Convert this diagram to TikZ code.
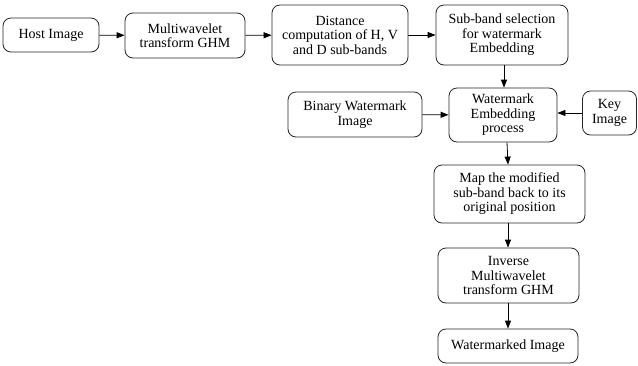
\documentclass[tikz,border=0pt]{standalone}
\usepackage{fontspec}
\setmainfont{Liberation Serif}
\usetikzlibrary{arrows.meta}
\begin{document}
\begin{tikzpicture}[x=1pt,y=-1pt,
  box/.style={draw=black!85,line width=0.8pt,rounded corners=8pt,align=center,
    inner sep=0pt,font=\fontsize{14}{14.5}\selectfont},
  arr/.style={draw=black,line width=0.8pt,-{Triangle[length=8pt,width=6pt]}}]
\useasboundingbox (0,0) rectangle (638,365);
\node[box,minimum width=96pt,minimum height=34pt] (host) at (51,35) {Host Image};
\node[box,minimum width=120pt,minimum height=45pt] (multi) at (185,35.5) {Multiwavelet\\transform GHM};
\node[box,minimum width=136pt,minimum height=60pt] (dist) at (340,35) {Distance\\computation of H, V\\and D sub-bands};
\node[box,minimum width=132pt,minimum height=60pt] (sel) at (502,35) {Sub-band selection\\for watermark\\Embedding};
\node[box,minimum width=134pt,minimum height=45pt] (bin) at (355,114.5) {Binary Watermark\\Image};
\node[box,minimum width=108pt,minimum height=54pt] (emb) at (503,115) {Watermark\\Embedding\\process};
\node[box,minimum width=54pt,minimum height=44pt] (key) at (609.5,113) {Key\\Image};
\node[box,minimum width=151pt,minimum height=58pt] (map) at (509.5,194) {Map the modified\\sub-band back to its\\original position};
\node[box,minimum width=141pt,minimum height=55pt] (inv) at (508.5,275.5) {Inverse\\Multiwavelet\\transform GHM};
\node[box,minimum width=140pt,minimum height=34pt] (out) at (508,346) {Watermarked Image};
\draw[arr] (host) -- (multi);
\draw[arr] (multi) -- (dist);
\draw[arr] (dist) -- (sel);
\draw[arr] ([xshift=2pt]sel.south) -- ([xshift=1pt]emb.north);
\draw[arr] (bin) -- (emb);
\draw[arr] (key.west) -- (emb.east |- key.west);
\draw[arr] ([xshift=4pt]emb.south) -- ([xshift=-1.5pt]map.north);
\draw[arr] ([xshift=-1.5pt]map.south) -- ([xshift=-0.5pt]inv.north);
\draw[arr] ([xshift=-0.5pt]inv.south) -- (out.north);
\end{tikzpicture}
\end{document}
